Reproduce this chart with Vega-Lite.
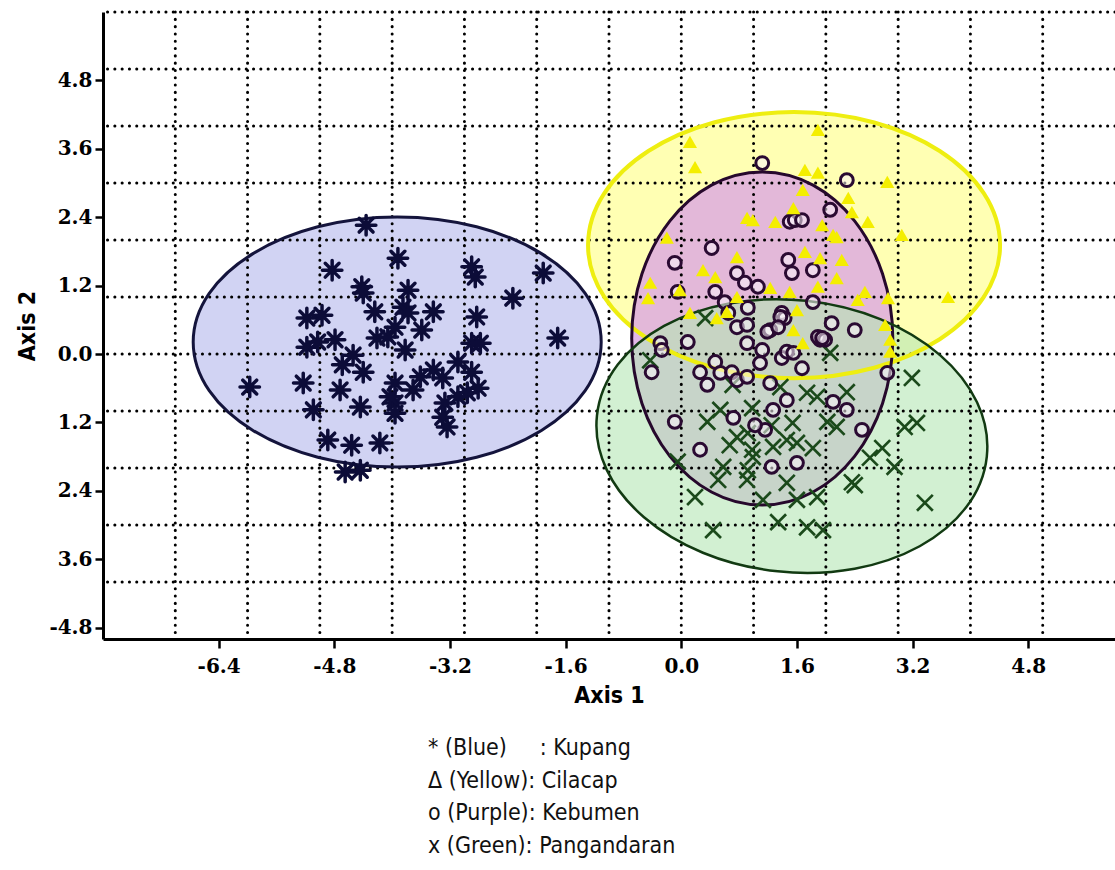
{
  "$schema": "https://vega.github.io/schema/vega-lite/v6.json",
  "width": 1012,
  "height": 627,
  "autosize": {"type": "none"},
  "padding": {"left": 103, "top": 12, "right": 0, "bottom": 231},
  "background": "white",
  "config": {
    "view": {"stroke": null},
    "axis": {"grid": false, "domainColor": "#000000", "domainWidth": 3, "tickColor": "#000000", "tickWidth": 2.5,
      "labelFont": "DejaVu Serif", "labelFontWeight": "bold", "labelFontSize": 20, "labelColor": "#000000",
      "titleFont": "DejaVu Sans Condensed", "titleFontWeight": "bold", "titleFontSize": 23, "titleColor": "#000000"},
    "axisX": {"tickSize": 9, "labelPadding": 8, "titlePadding": 8},
    "axisY": {"tickSize": 8, "labelPadding": 3, "titlePadding": 9}
  },
  "title": {
    "text": ["* (Blue)\u00a0\u00a0\u00a0\u00a0\u00a0: Kupang", "Δ (Yellow): Cilacap", "o (Purple): Kebumen", "x (Green): Pangandaran"],
    "orient": "bottom",
    "anchor": "start",
    "frame": "group",
    "align": "left",
    "baseline": "top",
    "dx": 325,
    "offset": 30,
    "font": "DejaVu Sans Condensed",
    "fontSize": 23,
    "fontWeight": "normal",
    "lineHeight": 32.5,
    "color": "#111111"
  },
  "datasets": {
    "ellipses": [
      {"site": "Kupang", "x": -3.93, "y": 0.21},
      {"site": "Cilacap", "x": 1.56, "y": 1.91},
      {"site": "Kebumen", "x": 1.12, "y": 0.27},
      {"site": "Pangandaran", "x": 1.53, "y": -1.44}
    ],
    "gridx": [{"x": -7}, {"x": -6}, {"x": -5}, {"x": -4}, {"x": -3}, {"x": -2}, {"x": -1}, {"x": 0}, {"x": 1}, {"x": 2}, {"x": 3}, {"x": 4}, {"x": 5}],
    "gridy": [{"y": -4}, {"y": -3}, {"y": -2}, {"y": -1}, {"y": 0}, {"y": 1}, {"y": 2}, {"y": 3}, {"y": 4}, {"y": 5}, {"y": 6}],
    "kupang": [
      {"x": -4.36, "y": 2.26}, {"x": -4.83, "y": 1.47}, {"x": -4.42, "y": 1.18}, {"x": -4.40, "y": 1.07}, {"x": -4.24, "y": 0.74},
      {"x": -5.18, "y": 0.63}, {"x": -4.97, "y": 0.68}, {"x": -3.92, "y": 1.68}, {"x": -5.18, "y": 0.12}, {"x": -5.03, "y": 0.21},
      {"x": -4.79, "y": 0.25}, {"x": -4.54, "y": -0.02}, {"x": -4.69, "y": -0.19}, {"x": -4.40, "y": -0.32}, {"x": -4.21, "y": 0.28},
      {"x": -4.06, "y": 0.30}, {"x": -5.97, "y": -0.58}, {"x": -5.23, "y": -0.51}, {"x": -4.72, "y": -0.63}, {"x": -5.09, "y": -0.98},
      {"x": -4.44, "y": -0.93}, {"x": -4.89, "y": -1.51}, {"x": -4.56, "y": -1.60}, {"x": -4.17, "y": -1.56}, {"x": -4.65, "y": -2.07},
      {"x": -4.44, "y": -2.04}, {"x": -2.90, "y": 1.53}, {"x": -2.85, "y": 1.35}, {"x": -1.91, "y": 1.42}, {"x": -2.33, "y": 0.98},
      {"x": -3.78, "y": 1.12}, {"x": -3.85, "y": 0.82}, {"x": -3.78, "y": 0.72}, {"x": -3.43, "y": 0.74}, {"x": -2.83, "y": 0.65},
      {"x": -3.96, "y": 0.47}, {"x": -3.59, "y": 0.42}, {"x": -1.71, "y": 0.28}, {"x": -2.90, "y": 0.19}, {"x": -2.78, "y": 0.19},
      {"x": -3.82, "y": 0.07}, {"x": -3.09, "y": -0.14}, {"x": -2.90, "y": -0.32}, {"x": -3.43, "y": -0.28}, {"x": -3.30, "y": -0.42},
      {"x": -3.61, "y": -0.40}, {"x": -3.96, "y": -0.51}, {"x": -3.71, "y": -0.63}, {"x": -2.81, "y": -0.60}, {"x": -2.96, "y": -0.68},
      {"x": -3.09, "y": -0.75}, {"x": -3.27, "y": -0.86}, {"x": -3.96, "y": -0.86}, {"x": -3.96, "y": -1.04}, {"x": -3.30, "y": -1.11},
      {"x": -3.24, "y": -1.28}, {"x": -4.03, "y": -0.75}
    ],
    "cilacap": [
      {"x": 0.12, "y": 3.72}, {"x": 0.19, "y": 3.28}, {"x": 0.91, "y": 2.39}, {"x": 0.99, "y": 2.35}, {"x": 1.30, "y": 2.32},
      {"x": 1.55, "y": 2.56}, {"x": -0.20, "y": 2.04}, {"x": 0.77, "y": 1.70}, {"x": 0.30, "y": 1.47}, {"x": 0.47, "y": 1.35},
      {"x": -0.43, "y": 1.25}, {"x": -0.46, "y": 0.98}, {"x": 1.23, "y": 1.16}, {"x": 1.50, "y": 1.09}, {"x": 0.77, "y": 1.00},
      {"x": 0.12, "y": 0.72}, {"x": 0.49, "y": 0.63}, {"x": 0.63, "y": 0.74}, {"x": -0.02, "y": 1.12}, {"x": 1.60, "y": 0.77},
      {"x": 1.89, "y": 3.93}, {"x": 1.71, "y": 3.23}, {"x": 1.89, "y": 3.18}, {"x": 1.68, "y": 2.88}, {"x": 2.85, "y": 3.02},
      {"x": 2.31, "y": 2.74}, {"x": 2.36, "y": 2.49}, {"x": 2.58, "y": 2.32}, {"x": 1.95, "y": 2.26}, {"x": 2.10, "y": 2.09},
      {"x": 3.05, "y": 2.09}, {"x": 1.71, "y": 1.79}, {"x": 1.92, "y": 1.68}, {"x": 2.22, "y": 1.65}, {"x": 2.15, "y": 1.33},
      {"x": 2.54, "y": 1.09}, {"x": 2.44, "y": 0.95}, {"x": 2.86, "y": 0.98}, {"x": 3.69, "y": 1.00}, {"x": 2.82, "y": 0.51},
      {"x": 2.89, "y": 0.25}, {"x": 1.55, "y": 0.42}, {"x": 1.68, "y": 0.19}, {"x": 2.15, "y": 2.05}, {"x": 1.89, "y": 1.18},
      {"x": 2.89, "y": 0.04}
    ],
    "kebumen": [
      {"x": 1.12, "y": 3.35}, {"x": 1.50, "y": 2.32}, {"x": 1.57, "y": 2.35}, {"x": 0.42, "y": 1.86}, {"x": -0.09, "y": 1.60},
      {"x": 1.48, "y": 1.65}, {"x": 1.53, "y": 1.42}, {"x": 0.77, "y": 1.42}, {"x": 0.88, "y": 1.25}, {"x": 1.06, "y": 1.18},
      {"x": -0.05, "y": 1.09}, {"x": 0.47, "y": 1.09}, {"x": 0.60, "y": 0.91}, {"x": 0.92, "y": 0.81}, {"x": 0.65, "y": 0.72},
      {"x": 0.77, "y": 0.47}, {"x": 0.91, "y": 0.51}, {"x": 1.23, "y": 0.42}, {"x": 1.39, "y": 0.72}, {"x": 1.43, "y": 0.63},
      {"x": -0.29, "y": 0.19}, {"x": 0.09, "y": 0.21}, {"x": 0.91, "y": 0.19}, {"x": 2.29, "y": 3.05}, {"x": 2.06, "y": 2.53},
      {"x": 1.82, "y": 1.47}, {"x": 1.82, "y": 0.91}, {"x": 2.08, "y": 0.54}, {"x": 2.40, "y": 0.42}, {"x": 1.92, "y": 0.25},
      {"x": 1.67, "y": 2.35}, {"x": 1.37, "y": 0.65}, {"x": 1.19, "y": 0.39}, {"x": 1.34, "y": 0.47}, {"x": 1.89, "y": 0.30},
      {"x": 1.99, "y": 0.25}, {"x": -0.27, "y": 0.07}, {"x": -0.41, "y": -0.32}, {"x": 0.26, "y": -0.32}, {"x": 0.36, "y": -0.54},
      {"x": 0.47, "y": -0.14}, {"x": 0.54, "y": -0.33}, {"x": 0.70, "y": -0.32}, {"x": 0.77, "y": -0.46}, {"x": 0.91, "y": -0.40},
      {"x": 1.12, "y": 0.07}, {"x": 1.09, "y": -0.16}, {"x": 1.39, "y": -0.07}, {"x": 1.46, "y": 0.04}, {"x": 1.23, "y": -0.51},
      {"x": 1.46, "y": -0.81}, {"x": 1.27, "y": -0.98}, {"x": 1.16, "y": -1.33}, {"x": 1.02, "y": -1.25}, {"x": 0.72, "y": -1.12},
      {"x": -0.09, "y": -1.19}, {"x": 0.26, "y": -1.68}, {"x": 1.25, "y": -1.98}, {"x": 1.60, "y": -1.91}, {"x": 1.95, "y": 0.28},
      {"x": 1.67, "y": -0.25}, {"x": 2.85, "y": -0.33}, {"x": 1.55, "y": 0.02}, {"x": 2.10, "y": -0.84}, {"x": 2.29, "y": -0.98},
      {"x": 2.50, "y": -1.33}
    ],
    "pangandaran": [
      {"x": -0.43, "y": -0.11}, {"x": 0.71, "y": -0.54}, {"x": 0.54, "y": -0.98}, {"x": 0.36, "y": -1.19}, {"x": 0.77, "y": -1.46},
      {"x": 0.67, "y": -1.60}, {"x": 0.98, "y": -0.95}, {"x": 1.25, "y": -1.25}, {"x": 0.92, "y": -1.39}, {"x": 0.98, "y": -1.68},
      {"x": 0.99, "y": -1.81}, {"x": 1.27, "y": -1.63}, {"x": 1.46, "y": -1.51}, {"x": -0.05, "y": -1.89}, {"x": 0.58, "y": -1.98},
      {"x": 0.51, "y": -2.21}, {"x": 0.92, "y": -2.04}, {"x": 0.91, "y": -2.21}, {"x": 1.46, "y": -2.26}, {"x": 0.19, "y": -2.51},
      {"x": 1.13, "y": -2.56}, {"x": 1.34, "y": -2.95}, {"x": 0.44, "y": -3.09}, {"x": 1.37, "y": -0.58}, {"x": 1.54, "y": -1.21},
      {"x": 2.06, "y": 0.02}, {"x": 2.29, "y": -0.67}, {"x": 3.19, "y": -0.42}, {"x": 1.74, "y": -0.68}, {"x": 1.88, "y": -0.75},
      {"x": 2.02, "y": -1.19}, {"x": 2.15, "y": -1.28}, {"x": 3.09, "y": -1.28}, {"x": 3.26, "y": -1.21}, {"x": 1.60, "y": -1.56},
      {"x": 1.82, "y": -1.65}, {"x": 2.78, "y": -1.65}, {"x": 2.61, "y": -1.82}, {"x": 2.95, "y": -1.98}, {"x": 2.36, "y": -2.25},
      {"x": 2.40, "y": -2.30}, {"x": 1.88, "y": -2.51}, {"x": 1.60, "y": -2.56}, {"x": 3.37, "y": -2.61}, {"x": 1.74, "y": -3.04},
      {"x": 1.96, "y": -3.09}, {"x": 0.33, "y": 0.63}
    ]
  },
  "layer": [
    {
      "data": {"name": "ellipses"},
      "transform": [{"filter": "datum.site === 'Kupang'"}],
      "mark": {"type": "point", "shape": "M 1 0 C 1 0.3386 0.5523 0.613 0 0.613 C -0.5523 0.613 -1 0.3386 -1 0 C -1 -0.3386 -0.5523 -0.613 0 -0.613 C 0.5523 -0.613 1 -0.3386 1 0 Z", "size": 166464, "filled": true, "fill": "#c6c8f0", "fillOpacity": 0.8, "strokeWidth": 0, "opacity": 1},
      "encoding": {
        "x": {"field": "x", "type": "quantitative", "scale": {"domain": [-8, 6], "nice": false, "zero": false}, "axis": {"title": "Axis 1", "values": [-6.4, -4.8, -3.2, -1.6, 0, 1.6, 3.2, 4.8], "labelExpr": "datum.value < 0 ? '-' + format(-datum.value, '.1f') : format(datum.value, '.1f')"}},
        "y": {"field": "y", "type": "quantitative", "scale": {"domain": [-5, 6], "nice": false, "zero": false}, "axis": {"title": "Axis 2", "values": [-4.8, -3.6, -2.4, -1.2, 0, 1.2, 2.4, 3.6, 4.8], "labelExpr": "datum.value < -4 ? '-' + format(-datum.value, '.1f') : format(abs(datum.value), '.1f')"}}
      }
    },
    {
      "data": {"name": "ellipses"},
      "transform": [{"filter": "datum.site === 'Cilacap'"}],
      "mark": {"type": "point", "shape": "M 1 0 C 1 0.3568 0.5523 0.646 0 0.646 C -0.5523 0.646 -1 0.3568 -1 0 C -1 -0.3568 -0.5523 -0.646 0 -0.646 C 0.5523 -0.646 1 -0.3568 1 0 Z", "size": 169744, "filled": true, "fill": "#ffffa0", "fillOpacity": 0.8, "strokeWidth": 0, "opacity": 1},
      "encoding": {
        "x": {"field": "x", "type": "quantitative", "scale": {"domain": [-8, 6], "nice": false, "zero": false}, "axis": {"title": "Axis 1", "values": [-6.4, -4.8, -3.2, -1.6, 0, 1.6, 3.2, 4.8], "labelExpr": "datum.value < 0 ? '-' + format(-datum.value, '.1f') : format(datum.value, '.1f')"}},
        "y": {"field": "y", "type": "quantitative", "scale": {"domain": [-5, 6], "nice": false, "zero": false}, "axis": {"title": "Axis 2", "values": [-4.8, -3.6, -2.4, -1.2, 0, 1.2, 2.4, 3.6, 4.8], "labelExpr": "datum.value < -4 ? '-' + format(-datum.value, '.1f') : format(abs(datum.value), '.1f')"}}
      }
    },
    {
      "data": {"name": "ellipses"},
      "transform": [{"filter": "datum.site === 'Kebumen'"}],
      "mark": {"type": "point", "shape": "M 0.784 0 C 0.784 0.5523 0.433 1 0 1 C -0.433 1 -0.784 0.5523 -0.784 0 C -0.784 -0.5523 -0.433 -1 0 -1 C 0.433 -1 0.784 -0.5523 0.784 0 Z", "size": 110889, "filled": true, "fill": "#dca6e2", "fillOpacity": 0.8, "strokeWidth": 0, "opacity": 1},
      "encoding": {
        "x": {"field": "x", "type": "quantitative", "scale": {"domain": [-8, 6], "nice": false, "zero": false}, "axis": {"title": "Axis 1", "values": [-6.4, -4.8, -3.2, -1.6, 0, 1.6, 3.2, 4.8], "labelExpr": "datum.value < 0 ? '-' + format(-datum.value, '.1f') : format(datum.value, '.1f')"}},
        "y": {"field": "y", "type": "quantitative", "scale": {"domain": [-5, 6], "nice": false, "zero": false}, "axis": {"title": "Axis 2", "values": [-4.8, -3.6, -2.4, -1.2, 0, 1.2, 2.4, 3.6, 4.8], "labelExpr": "datum.value < -4 ? '-' + format(-datum.value, '.1f') : format(abs(datum.value), '.1f')"}}
      }
    },
    {
      "data": {"name": "ellipses"},
      "transform": [{"filter": "datum.site === 'Pangandaran'"}],
      "mark": {"type": "point", "shape": "M 1 0 C 1 0.3833 0.5523 0.694 0 0.694 C -0.5523 0.694 -1 0.3833 -1 0 C -1 -0.3833 -0.5523 -0.694 0 -0.694 C 0.5523 -0.694 1 -0.3833 1 0 Z", "size": 153664, "angle": 6, "filled": true, "fill": "#b4e6b4", "fillOpacity": 0.6, "strokeWidth": 0, "opacity": 1},
      "encoding": {
        "x": {"field": "x", "type": "quantitative", "scale": {"domain": [-8, 6], "nice": false, "zero": false}, "axis": {"title": "Axis 1", "values": [-6.4, -4.8, -3.2, -1.6, 0, 1.6, 3.2, 4.8], "labelExpr": "datum.value < 0 ? '-' + format(-datum.value, '.1f') : format(datum.value, '.1f')"}},
        "y": {"field": "y", "type": "quantitative", "scale": {"domain": [-5, 6], "nice": false, "zero": false}, "axis": {"title": "Axis 2", "values": [-4.8, -3.6, -2.4, -1.2, 0, 1.2, 2.4, 3.6, 4.8], "labelExpr": "datum.value < -4 ? '-' + format(-datum.value, '.1f') : format(abs(datum.value), '.1f')"}}
      }
    },
    {
      "data": {"name": "gridx"},
      "mark": {"type": "rule", "color": "#000000", "strokeWidth": 3, "strokeDash": [0.1, 7.2], "strokeCap": "round"},
      "encoding": {
        "x": {"field": "x", "type": "quantitative", "scale": {"domain": [-8, 6], "nice": false, "zero": false}, "axis": {"title": "Axis 1", "values": [-6.4, -4.8, -3.2, -1.6, 0, 1.6, 3.2, 4.8], "labelExpr": "datum.value < 0 ? '-' + format(-datum.value, '.1f') : format(datum.value, '.1f')"}}
      }
    },
    {
      "data": {"name": "gridy"},
      "mark": {"type": "rule", "color": "#000000", "strokeWidth": 3, "strokeDash": [0.1, 7.2], "strokeCap": "round"},
      "encoding": {
        "y": {"field": "y", "type": "quantitative", "scale": {"domain": [-5, 6], "nice": false, "zero": false}, "axis": {"title": "Axis 2", "values": [-4.8, -3.6, -2.4, -1.2, 0, 1.2, 2.4, 3.6, 4.8], "labelExpr": "datum.value < -4 ? '-' + format(-datum.value, '.1f') : format(abs(datum.value), '.1f')"}}
      }
    },
    {
      "data": {"name": "ellipses"},
      "transform": [{"filter": "datum.site === 'Kupang'"}],
      "mark": {"type": "point", "shape": "M 1 0 C 1 0.3386 0.5523 0.613 0 0.613 C -0.5523 0.613 -1 0.3386 -1 0 C -1 -0.3386 -0.5523 -0.613 0 -0.613 C 0.5523 -0.613 1 -0.3386 1 0 Z", "size": 166464, "filled": false, "stroke": "#14143c", "strokeWidth": 3, "opacity": 1},
      "encoding": {
        "x": {"field": "x", "type": "quantitative", "scale": {"domain": [-8, 6], "nice": false, "zero": false}, "axis": {"title": "Axis 1", "values": [-6.4, -4.8, -3.2, -1.6, 0, 1.6, 3.2, 4.8], "labelExpr": "datum.value < 0 ? '-' + format(-datum.value, '.1f') : format(datum.value, '.1f')"}},
        "y": {"field": "y", "type": "quantitative", "scale": {"domain": [-5, 6], "nice": false, "zero": false}, "axis": {"title": "Axis 2", "values": [-4.8, -3.6, -2.4, -1.2, 0, 1.2, 2.4, 3.6, 4.8], "labelExpr": "datum.value < -4 ? '-' + format(-datum.value, '.1f') : format(abs(datum.value), '.1f')"}}
      }
    },
    {
      "data": {"name": "ellipses"},
      "transform": [{"filter": "datum.site === 'Cilacap'"}],
      "mark": {"type": "point", "shape": "M 1 0 C 1 0.3568 0.5523 0.646 0 0.646 C -0.5523 0.646 -1 0.3568 -1 0 C -1 -0.3568 -0.5523 -0.646 0 -0.646 C 0.5523 -0.646 1 -0.3568 1 0 Z", "size": 169744, "filled": false, "stroke": "#eeee10", "strokeWidth": 4, "opacity": 1},
      "encoding": {
        "x": {"field": "x", "type": "quantitative", "scale": {"domain": [-8, 6], "nice": false, "zero": false}, "axis": {"title": "Axis 1", "values": [-6.4, -4.8, -3.2, -1.6, 0, 1.6, 3.2, 4.8], "labelExpr": "datum.value < 0 ? '-' + format(-datum.value, '.1f') : format(datum.value, '.1f')"}},
        "y": {"field": "y", "type": "quantitative", "scale": {"domain": [-5, 6], "nice": false, "zero": false}, "axis": {"title": "Axis 2", "values": [-4.8, -3.6, -2.4, -1.2, 0, 1.2, 2.4, 3.6, 4.8], "labelExpr": "datum.value < -4 ? '-' + format(-datum.value, '.1f') : format(abs(datum.value), '.1f')"}}
      }
    },
    {
      "data": {"name": "ellipses"},
      "transform": [{"filter": "datum.site === 'Kebumen'"}],
      "mark": {"type": "point", "shape": "M 0.784 0 C 0.784 0.5523 0.433 1 0 1 C -0.433 1 -0.784 0.5523 -0.784 0 C -0.784 -0.5523 -0.433 -1 0 -1 C 0.433 -1 0.784 -0.5523 0.784 0 Z", "size": 110889, "filled": false, "stroke": "#26082c", "strokeWidth": 3, "opacity": 1},
      "encoding": {
        "x": {"field": "x", "type": "quantitative", "scale": {"domain": [-8, 6], "nice": false, "zero": false}, "axis": {"title": "Axis 1", "values": [-6.4, -4.8, -3.2, -1.6, 0, 1.6, 3.2, 4.8], "labelExpr": "datum.value < 0 ? '-' + format(-datum.value, '.1f') : format(datum.value, '.1f')"}},
        "y": {"field": "y", "type": "quantitative", "scale": {"domain": [-5, 6], "nice": false, "zero": false}, "axis": {"title": "Axis 2", "values": [-4.8, -3.6, -2.4, -1.2, 0, 1.2, 2.4, 3.6, 4.8], "labelExpr": "datum.value < -4 ? '-' + format(-datum.value, '.1f') : format(abs(datum.value), '.1f')"}}
      }
    },
    {
      "data": {"name": "ellipses"},
      "transform": [{"filter": "datum.site === 'Pangandaran'"}],
      "mark": {"type": "point", "shape": "M 1 0 C 1 0.3833 0.5523 0.694 0 0.694 C -0.5523 0.694 -1 0.3833 -1 0 C -1 -0.3833 -0.5523 -0.694 0 -0.694 C 0.5523 -0.694 1 -0.3833 1 0 Z", "size": 153664, "angle": 6, "filled": false, "stroke": "#123a12", "strokeWidth": 2.5, "opacity": 1},
      "encoding": {
        "x": {"field": "x", "type": "quantitative", "scale": {"domain": [-8, 6], "nice": false, "zero": false}, "axis": {"title": "Axis 1", "values": [-6.4, -4.8, -3.2, -1.6, 0, 1.6, 3.2, 4.8], "labelExpr": "datum.value < 0 ? '-' + format(-datum.value, '.1f') : format(datum.value, '.1f')"}},
        "y": {"field": "y", "type": "quantitative", "scale": {"domain": [-5, 6], "nice": false, "zero": false}, "axis": {"title": "Axis 2", "values": [-4.8, -3.6, -2.4, -1.2, 0, 1.2, 2.4, 3.6, 4.8], "labelExpr": "datum.value < -4 ? '-' + format(-datum.value, '.1f') : format(abs(datum.value), '.1f')"}}
      }
    },
    {
      "data": {"name": "kupang"},
      "mark": {"type": "point", "shape": "M -1 0 L 1 0 M 0 -1 L 0 1 M -0.71 -0.71 L 0.71 0.71 M -0.71 0.71 L 0.71 -0.71", "size": 380, "filled": false, "stroke": "#0c0c38", "strokeWidth": 3.5, "strokeCap": "round", "opacity": 1},
      "encoding": {
        "x": {"field": "x", "type": "quantitative", "scale": {"domain": [-8, 6], "nice": false, "zero": false}, "axis": {"title": "Axis 1", "values": [-6.4, -4.8, -3.2, -1.6, 0, 1.6, 3.2, 4.8], "labelExpr": "datum.value < 0 ? '-' + format(-datum.value, '.1f') : format(datum.value, '.1f')"}},
        "y": {"field": "y", "type": "quantitative", "scale": {"domain": [-5, 6], "nice": false, "zero": false}, "axis": {"title": "Axis 2", "values": [-4.8, -3.6, -2.4, -1.2, 0, 1.2, 2.4, 3.6, 4.8], "labelExpr": "datum.value < -4 ? '-' + format(-datum.value, '.1f') : format(abs(datum.value), '.1f')"}}
      }
    },
    {
      "data": {"name": "pangandaran"},
      "mark": {"type": "point", "shape": "M -1 -1 L 1 1 M -1 1 L 1 -1", "size": 250, "filled": false, "stroke": "#1b4a1b", "strokeWidth": 2.7, "opacity": 1},
      "encoding": {
        "x": {"field": "x", "type": "quantitative", "scale": {"domain": [-8, 6], "nice": false, "zero": false}, "axis": {"title": "Axis 1", "values": [-6.4, -4.8, -3.2, -1.6, 0, 1.6, 3.2, 4.8], "labelExpr": "datum.value < 0 ? '-' + format(-datum.value, '.1f') : format(datum.value, '.1f')"}},
        "y": {"field": "y", "type": "quantitative", "scale": {"domain": [-5, 6], "nice": false, "zero": false}, "axis": {"title": "Axis 2", "values": [-4.8, -3.6, -2.4, -1.2, 0, 1.2, 2.4, 3.6, 4.8], "labelExpr": "datum.value < -4 ? '-' + format(-datum.value, '.1f') : format(abs(datum.value), '.1f')"}}
      }
    },
    {
      "data": {"name": "kebumen"},
      "mark": {"type": "point", "shape": "circle", "size": 165, "filled": true, "fill": "#faf2fa", "fillOpacity": 0.55, "stroke": "#2a0a32", "strokeWidth": 3, "opacity": 1},
      "encoding": {
        "x": {"field": "x", "type": "quantitative", "scale": {"domain": [-8, 6], "nice": false, "zero": false}, "axis": {"title": "Axis 1", "values": [-6.4, -4.8, -3.2, -1.6, 0, 1.6, 3.2, 4.8], "labelExpr": "datum.value < 0 ? '-' + format(-datum.value, '.1f') : format(datum.value, '.1f')"}},
        "y": {"field": "y", "type": "quantitative", "scale": {"domain": [-5, 6], "nice": false, "zero": false}, "axis": {"title": "Axis 2", "values": [-4.8, -3.6, -2.4, -1.2, 0, 1.2, 2.4, 3.6, 4.8], "labelExpr": "datum.value < -4 ? '-' + format(-datum.value, '.1f') : format(abs(datum.value), '.1f')"}}
      }
    },
    {
      "data": {"name": "cilacap"},
      "mark": {"type": "point", "shape": "triangle-up", "size": 200, "filled": true, "fill": "#f4ee00", "strokeWidth": 0, "opacity": 1},
      "encoding": {
        "x": {"field": "x", "type": "quantitative", "scale": {"domain": [-8, 6], "nice": false, "zero": false}, "axis": {"title": "Axis 1", "values": [-6.4, -4.8, -3.2, -1.6, 0, 1.6, 3.2, 4.8], "labelExpr": "datum.value < 0 ? '-' + format(-datum.value, '.1f') : format(datum.value, '.1f')"}},
        "y": {"field": "y", "type": "quantitative", "scale": {"domain": [-5, 6], "nice": false, "zero": false}, "axis": {"title": "Axis 2", "values": [-4.8, -3.6, -2.4, -1.2, 0, 1.2, 2.4, 3.6, 4.8], "labelExpr": "datum.value < -4 ? '-' + format(-datum.value, '.1f') : format(abs(datum.value), '.1f')"}}
      }
    }
  ]
}
